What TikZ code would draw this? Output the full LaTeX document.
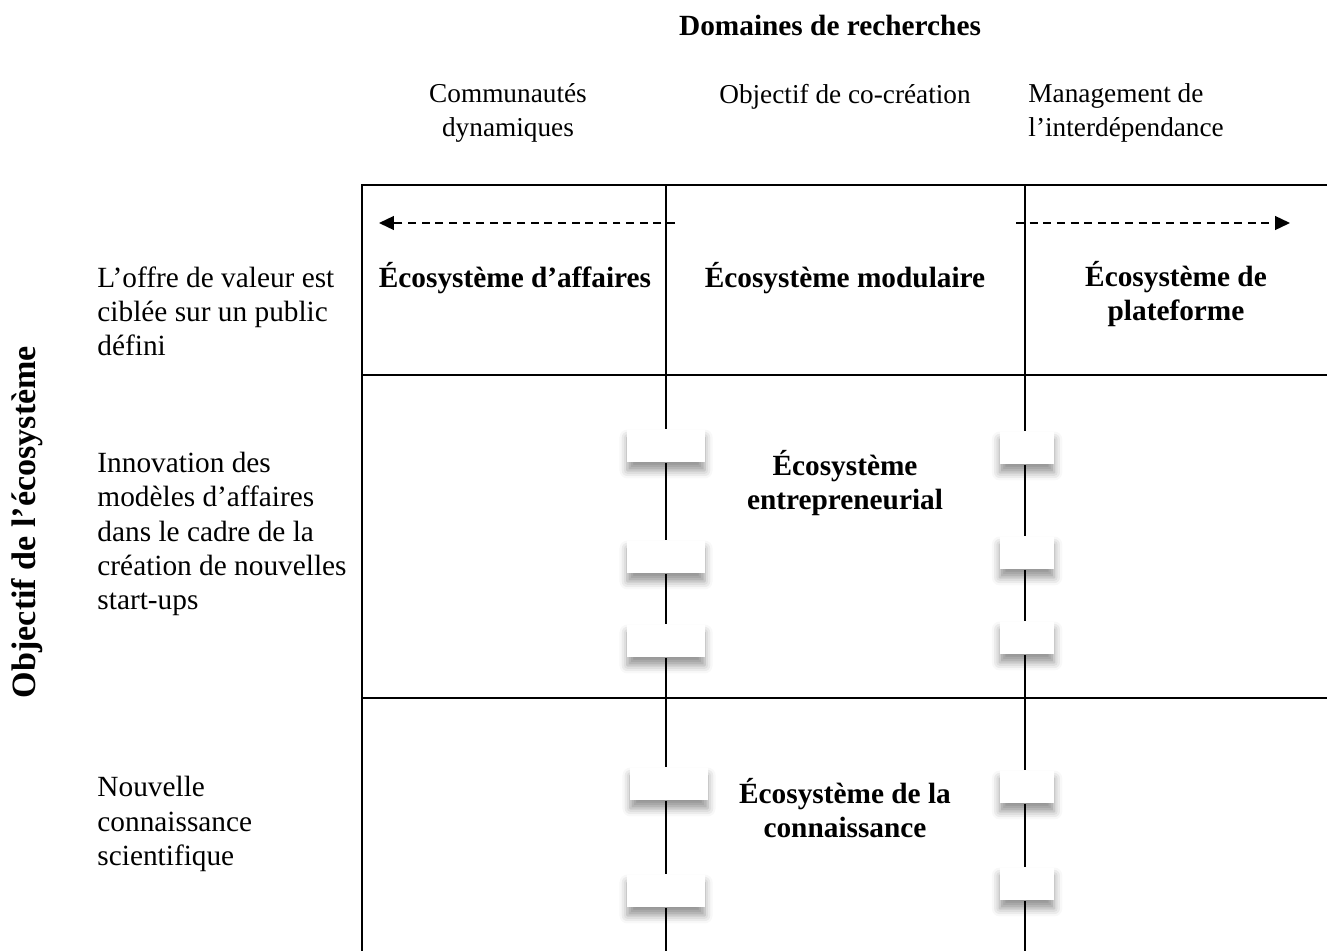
\documentclass[tikz,border=0pt]{standalone}
\usepackage{fontspec}
\setmainfont{Liberation Serif}
\usetikzlibrary{arrows.meta, positioning, shadows.blur}

\begin{document}
\begin{tikzpicture}[
    x=0.44pt, y=-0.44pt,
    every node/.style={font=\fontsize{12.9}{15}\selectfont},
    grid/.style={line width=1pt, black},
    headtxt/.style={align=center, inner sep=0pt,
      font=\fontsize{12}{15}\selectfont},
    rowtxt/.style={align=left, anchor=west, inner sep=0pt},
    celltxt/.style={align=center, inner sep=0pt,
      font=\fontsize{12.9}{15}\selectfont\bfseries},
    tab/.style={rectangle, fill=white, minimum width=34pt,
      minimum height=14.5pt, inner sep=0pt,
      blur shadow={shadow xshift=0pt, shadow yshift=-3.5pt,
        shadow blur radius=3.5pt, shadow opacity=42}},
    tabn/.style={tab, minimum width=24pt},
    darr/.style={-{Triangle[length=6.5pt, width=6pt]}, line width=0.8pt,
      dash pattern=on 3.5pt off 2.5pt}
  ]
  \useasboundingbox (0,0) rectangle (1327,951);

  % Headings
  \node[celltxt] (dom) at (830,25) {Domaines de recherches};
  \node[headtxt] (com) at (508,113) {Communautés\\dynamiques};
  \node[headtxt] (cocr) at (845,97) {Objectif de co-création};
  \node[headtxt, align=left, anchor=west] (mgt) at (1028,113)
    {Management de\\l’interdépendance};

  % Row labels
  \node[rowtxt] (r1) at (97,311) {L’offre de valeur est\\ciblée sur un public\\défini};
  \node[rowtxt] (r2) at (97,534) {Innovation des\\modèles d’affaires\\dans le cadre de la\\création de nouvelles\\start-ups};
  \node[rowtxt] (r3) at (97,824) {Nouvelle\\connaissance\\scientifique};
  \node[celltxt, rotate=90, font=\fontsize{15}{18}\selectfont\bfseries]
    (obj) at (27,522) {Objectif de l’écosystème};

  % Table frame
  \draw[grid] (1327,185) -- (362,185) -- (362,951);
  \draw[grid] (362,375) -- (1327,375);
  \draw[grid] (362,698) -- (1327,698);

  % Cells
  \node[celltxt] (eaff) at (515,278) {Écosystème d’affaires};
  \node[celltxt] (emod) at (845,278) {Écosystème modulaire};
  \node[celltxt] (epla) at (1176,294) {Écosystème de\\plateforme};
  \node[celltxt] (eent) at (845,483) {Écosystème\\entrepreneurial};
  \node[celltxt] (econ) at (845,808) {Écosystème de la\\connaissance};

  % Dashed arrows
  \coordinate (la) at (675,223);
  \coordinate (lb) at (379,223);
  \coordinate (ra) at (1016,223);
  \coordinate (rb) at (1290,223);
  \draw[darr] (la) -- (lb);
  \draw[darr] (ra) -- (rb);

  % Tabs on the column lines
  \node[tab]  (a1) at (666,446) {};
  \node[tab]  (a2) at (666,557) {};
  \node[tab]  (a3) at (666,641) {};
  \node[tab]  (a4) at (669,784) {};
  \node[tab]  (a5) at (666,891) {};
  \node[tabn] (b1) at (1027,448) {};
  \node[tabn] (b2) at (1027,553) {};
  \node[tabn] (b3) at (1027,638) {};
  \node[tabn] (b4) at (1027,787) {};
  \node[tabn] (b5) at (1027,884) {};

  % Column lines, cut by the tabs
  \coordinate (atop) at (666,185);
  \coordinate (abot) at (666,951);
  \coordinate (btop) at (1025,185);
  \coordinate (bbot) at (1025,951);
  \foreach \c in {a,b} {
    \draw[grid] (\c top) -- (\c1.north -| \c top);
    \foreach \i/\j in {1/2,2/3,3/4,4/5}
      \draw[grid] (\c\i.south -| \c top) -- (\c\j.north -| \c top);
    \draw[grid] (\c5.south -| \c top) -- (\c bot);
  }
\end{tikzpicture}
\end{document}
